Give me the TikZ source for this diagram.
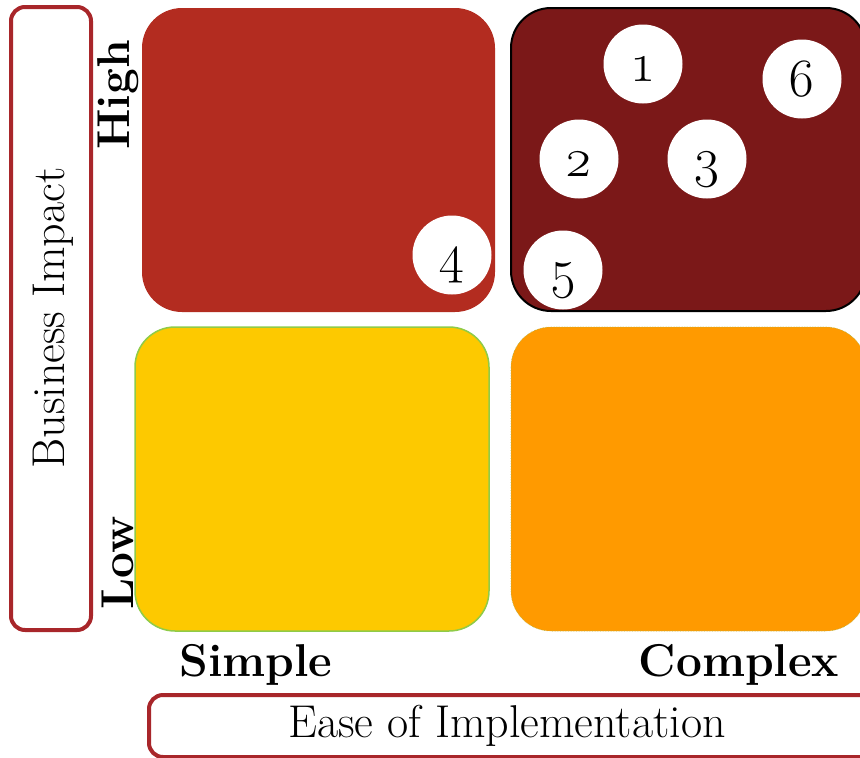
\documentclass[tikz,border=0pt]{standalone}
\usepackage{fontspec}
\setmainfont{Latin Modern Roman}[Numbers=OldStyle]
\usetikzlibrary{positioning}
\definecolor{qred}{HTML}{B32C20}
\definecolor{qdark}{HTML}{7B1818}
\definecolor{qyellow}{HTML}{FDC900}
\definecolor{qgreen}{HTML}{8FCB48}
\definecolor{qorange}{HTML}{FF9A00}
\definecolor{frame}{HTML}{A8262A}
\tikzset{
  quad/.style={rounded corners=40pt},
  axisbox/.style={draw=frame, line width=4pt, rounded corners=14pt, fill=white},
  dot/.style={circle, fill=white, minimum size=79pt, inner sep=0pt},
  num/.style={anchor=base, inner sep=0pt, font=\fontsize{54}{54}\selectfont},
  lvl/.style={font=\fontsize{46}{46}\selectfont\bfseries},
  axt/.style={font=\fontsize{46}{46}\selectfont}
}
\begin{document}
\begin{tikzpicture}[x=1pt,y=-1pt]
\useasboundingbox (0,0) rectangle (860,758);
% axis boxes
\draw[axisbox] (11,7) rectangle (91,630);
\node[axt, rotate=90] (bi) at (53,318) {Business Impact};
\draw[axisbox] (149,695) rectangle (875,757);
\node[axt] (ei) at (507,726) {Ease of Implementation};
% quadrants
\fill[qred, quad] (142,8) rectangle (495,312);
\fill[qdark, quad] (511,8) rectangle (866,311);
\filldraw[fill=qyellow, draw=qgreen, line width=1.5pt, quad] (135,327) rectangle (489,631);
\filldraw[fill=qorange, draw=qorange!70!cyan, line width=0.6pt, densely dotted, quad] (511,327) rectangle (866,631);
% level labels
\node[lvl, rotate=90] (high) at (118,95) {High};
\node[lvl, rotate=90] (low) at (118,563) {Low};
\node[lvl] (simple) at (256,665) {Simple};
\node[lvl] (complex) at (739,665) {Complex};
% items
\node[dot] (n1) at (643,64) {};
\node[dot] (n6) at (802,79) {};
\node[dot] (n2) at (579,159) {};
\node[dot] (n3) at (707,159) {};
\node[dot] (n4) at (452,255) {};
\node[dot] (n5) at (563,270) {};
\foreach \k in {1,...,6}
  \node[num] (t\k) at ([yshift=-17pt]n\k.center) {\k};
% border of the high/complex quadrant, drawn over the items
\draw[black, line width=2pt, quad] (511,8) rectangle (866,311);
\end{tikzpicture}
\end{document}
